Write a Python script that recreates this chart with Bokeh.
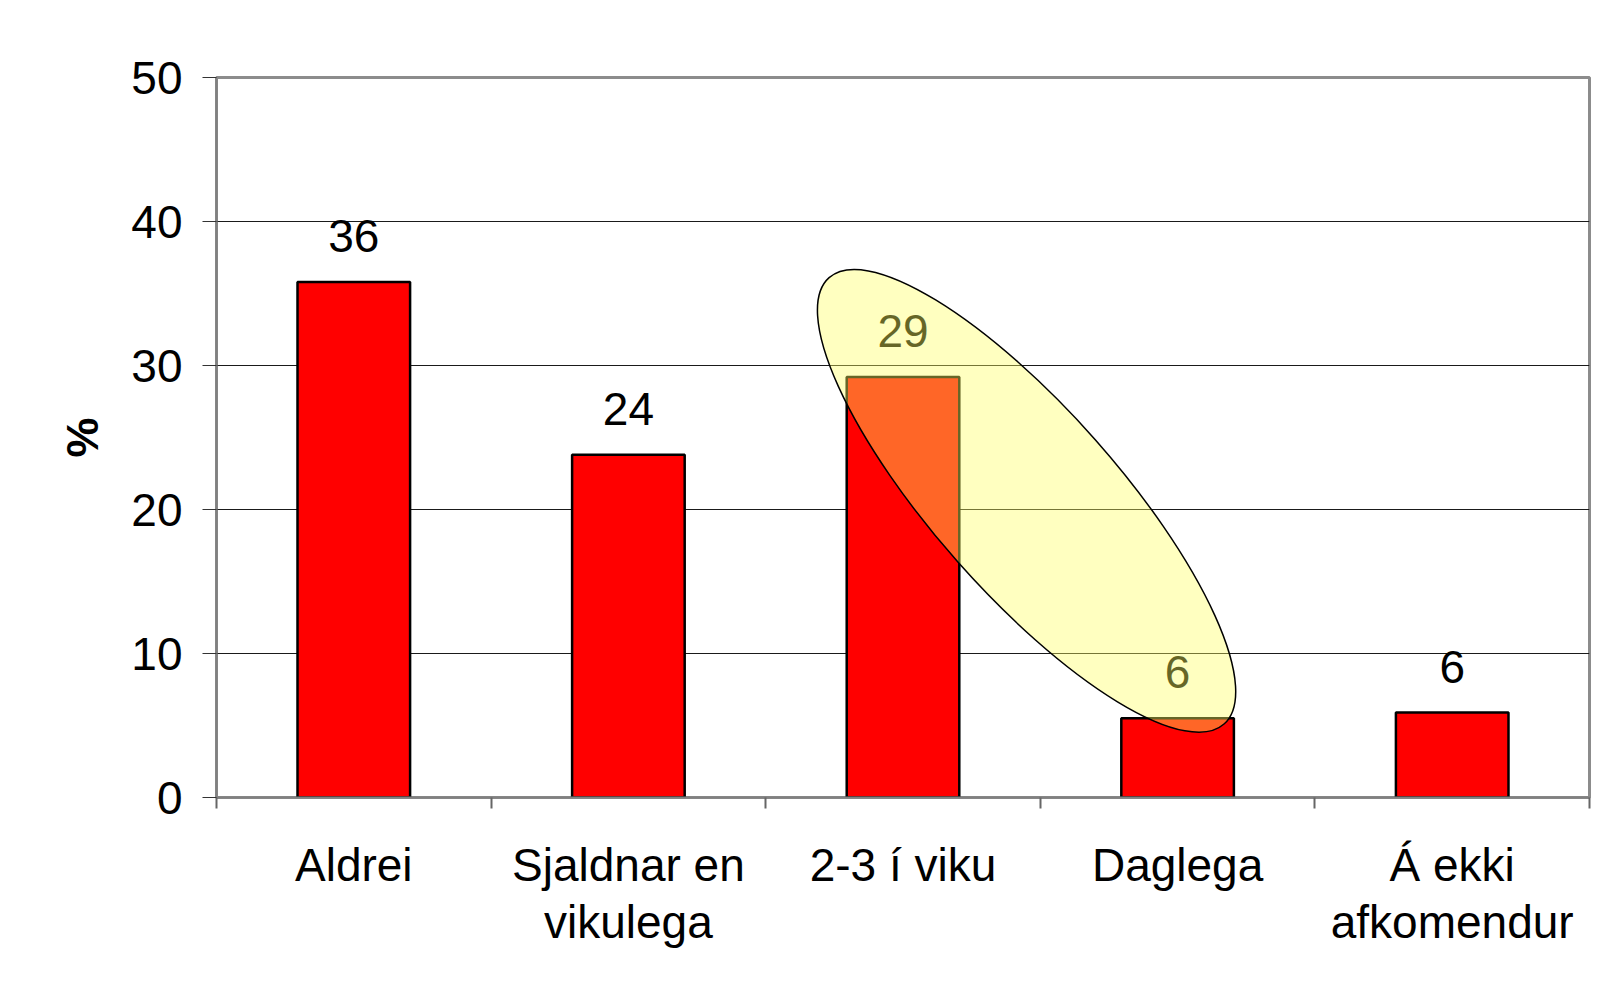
from bokeh.plotting import figure
from bokeh.models import Range1d, FixedTicker
from bokeh.core.properties import value
from bokeh.embed import file_html
from bokeh.resources import INLINE

# ---- data ----
categories = ["Aldrei", "Sjaldnar en\nvikulega", "2-3 í viku", "Daglega", "Á ekki\nafkomendur"]
percent = [35.8, 23.8, 29.2, 5.5, 5.9]
value_labels = ["36", "24", "29", "6", "6"]
y_ticks = [0, 10, 20, 30, 40, 50]
highlight = ["2-3 í viku", "Daglega"]
y_axis_title = "%"

FONT = "Liberation Sans"

n = len(categories)
xs = [i + 0.5 for i in range(n)]

p = figure(frame_width=1373, frame_height=720,
           min_border_left=216, min_border_right=9,
           min_border_top=77, min_border_bottom=177,
           x_range=Range1d(0, n), y_range=Range1d(0, 50),
           output_backend="svg", toolbar_location=None,
           background_fill_color="white", border_fill_color="white")

p.outline_line_color = "#8c8c8c"
p.outline_line_width = 3

# grid
p.xgrid.visible = False
p.ygrid.ticker = FixedTicker(ticks=y_ticks)
p.ygrid.grid_line_color = "#1a1a1a"
p.ygrid.grid_line_width = 1

# y axis
ya = p.yaxis[0]
ya.ticker = FixedTicker(ticks=y_ticks)
ya.major_tick_out = 14
ya.major_tick_in = 0
ya.major_tick_line_color = "#333333"
ya.major_tick_line_width = 1
ya.minor_tick_line_color = None
ya.axis_line_color = "#808080"
ya.axis_line_width = 2
ya.major_label_standoff = 20
ya.major_label_text_font = FONT
ya.major_label_text_font_size = "46px"
ya.major_label_text_color = "black"
ya.axis_label = y_axis_title
ya.axis_label_text_font = FONT
ya.axis_label_text_font_style = "bold"
ya.axis_label_text_font_size = "45px"
ya.axis_label_text_color = "black"
ya.axis_label_standoff = 20

# x axis: labels at category centres, ticks at boundaries
xa = p.xaxis[0]
xa.ticker = FixedTicker(ticks=xs, minor_ticks=list(range(n + 1)))
xa.major_label_overrides = {x: c for x, c in zip(xs, categories)}
xa.major_tick_line_color = None
xa.major_tick_out = 0
xa.major_tick_in = 0
xa.minor_tick_out = 11
xa.minor_tick_in = 0
xa.minor_tick_line_color = "#666666"
xa.minor_tick_line_width = 2
xa.axis_line_color = "#808080"
xa.axis_line_width = 2
xa.major_label_standoff = 30
xa.major_label_text_font = FONT
xa.major_label_text_font_size = "46px"
xa.major_label_text_color = "black"
xa.major_label_text_line_height = 1.11

# bars
p.vbar(x=xs, top=percent, width=0.41, fill_color="#FF0000",
       line_color="black", line_width=2.5)

# value labels
p.text(x=xs, y=percent, text=value_labels, text_align="center",
       text_baseline="alphabetic", y_offset=-46,
       text_font=value(FONT), text_font_size="46px", text_color="black")

# highlight ellipse around the chosen categories
idx = [categories.index(c) for c in highlight]
hv = [percent[i] for i in idx]
cx = sum(idx) / len(idx) + 0.5 - 0.05
cy = (max(hv) + min(hv)) / 2 + 3.25
p.ellipse(x=[cx], y=[cy], width=596, height=184,
          width_units="screen", height_units="screen",
          angle=-48.5, angle_units="deg",
          fill_color="#FFFF61", fill_alpha=0.4,
          line_color="black", line_width=1.5)

open("out.html", "w").write(file_html(p, INLINE))
